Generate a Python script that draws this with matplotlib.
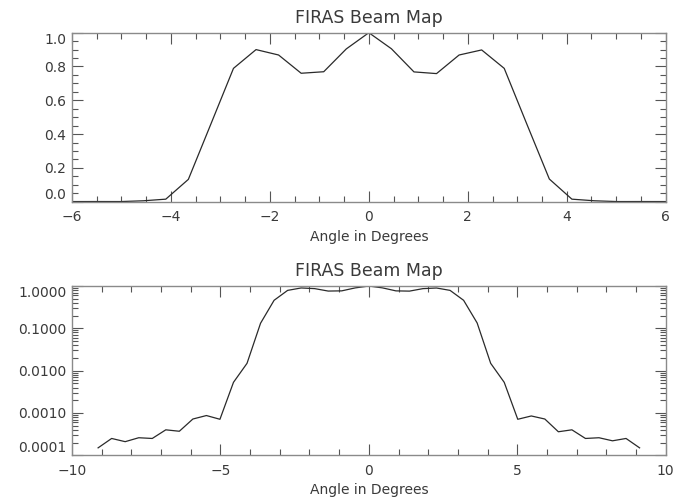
import matplotlib
matplotlib.use('Agg')
import matplotlib.pyplot as plt
from matplotlib.ticker import FixedLocator, MultipleLocator, LogLocator, NullFormatter

# beam profile, normalised to 1 at the centre
angles = [-9.12, -8.664, -8.208, -7.752, -7.296, -6.84, -6.384, -5.928, -5.472, -5.016,
          -4.56, -4.104, -3.648, -3.192, -2.736, -2.28, -1.824, -1.368, -0.912, -0.456,
          0.0,
          0.456, 0.912, 1.368, 1.824, 2.28, 2.736, 3.192, 3.648, 4.104, 4.56,
          5.016, 5.472, 5.928, 6.384, 6.84, 7.296, 7.752, 8.208, 8.664, 9.12]
beam = [1.5e-4, 2.5e-4, 2.1e-4, 2.6e-4, 2.5e-4, 4.0e-4, 3.7e-4, 7.2e-4, 8.7e-4, 7.1e-4,
        5.3e-3, 0.0149, 0.132, 0.46, 0.789, 0.90, 0.868, 0.760, 0.769, 0.904,
        1.0,
        0.905, 0.768, 0.758, 0.868, 0.898, 0.789, 0.46, 0.134, 0.0149, 5.3e-3,
        7.1e-4, 8.5e-4, 7.2e-4, 3.6e-4, 4.0e-4, 2.5e-4, 2.6e-4, 2.2e-4, 2.5e-4, 1.5e-4]

lin_yticks = [0.0, 0.2, 0.4, 0.6, 0.8, 1.0]
lin_ylabels = ['0.0', '0.2', '0.4', '0.6', '0.8', '1.0']
log_yticks = [1e-4, 1e-3, 1e-2, 1e-1, 1.0]
log_ylabels = ['0.0001', '0.0010', '0.0100', '0.1000', '1.0000']

title = 'FIRAS Beam Map'
xlabel = 'Angle in Degrees'

TXT = '#3a3a3a'
plt.rcParams['font.family'] = 'DejaVu Sans'
plt.rcParams['text.color'] = TXT


def style_axes(ax):
    for s in ax.spines.values():
        s.set_color('#8a8a8a')
        s.set_linewidth(1.0)
    ax.tick_params(which='both', direction='in', top=True, right=True,
                   colors='#555555', labelcolor=TXT, labelsize=10, width=0.8)
    ax.tick_params(which='major', length=8, pad=6)
    ax.tick_params(which='minor', length=4)
    ax.tick_params(axis='y', pad=4)
    ax.set_title(title, fontsize=12.5, color=TXT, pad=7)
    ax.set_xlabel(xlabel, fontsize=10, color=TXT, labelpad=4)


def nudge_end_labels(ax):
    labs = ax.get_yticklabels()
    labs[0].set_va('bottom')
    labs[-1].set_va('top')


fig = plt.figure(figsize=(6.74, 4.97), dpi=100)

ax1 = fig.add_axes([0.1068, 0.5942, 0.8809, 0.340])
ax1.plot(angles, beam, color='#2a2a2a', lw=0.9)
ax1.set_xlim(-6, 6)
ax1.set_ylim(0, 1.0)
ax1.xaxis.set_major_locator(MultipleLocator(2))
ax1.xaxis.set_minor_locator(MultipleLocator(0.5))
ax1.yaxis.set_major_locator(FixedLocator(lin_yticks))
ax1.set_yticklabels(lin_ylabels)
ax1.yaxis.set_minor_locator(MultipleLocator(0.05))
style_axes(ax1)
nudge_end_labels(ax1)

ax2 = fig.add_axes([0.1068, 0.0839, 0.8809, 0.3406])
ax2.plot(angles, beam, color='#2a2a2a', lw=0.9)
ax2.set_yscale('log')
ax2.set_xlim(-10, 10)
ax2.set_ylim(1e-4, 1.0)
ax2.xaxis.set_major_locator(MultipleLocator(5))
ax2.xaxis.set_minor_locator(MultipleLocator(1))
ax2.yaxis.set_major_locator(FixedLocator(log_yticks))
ax2.set_yticklabels(log_ylabels)
ax2.yaxis.set_minor_locator(LogLocator(base=10, subs=range(2, 10), numticks=20))
ax2.yaxis.set_minor_formatter(NullFormatter())
style_axes(ax2)
nudge_end_labels(ax2)

fig.savefig('out.png', dpi=100)
